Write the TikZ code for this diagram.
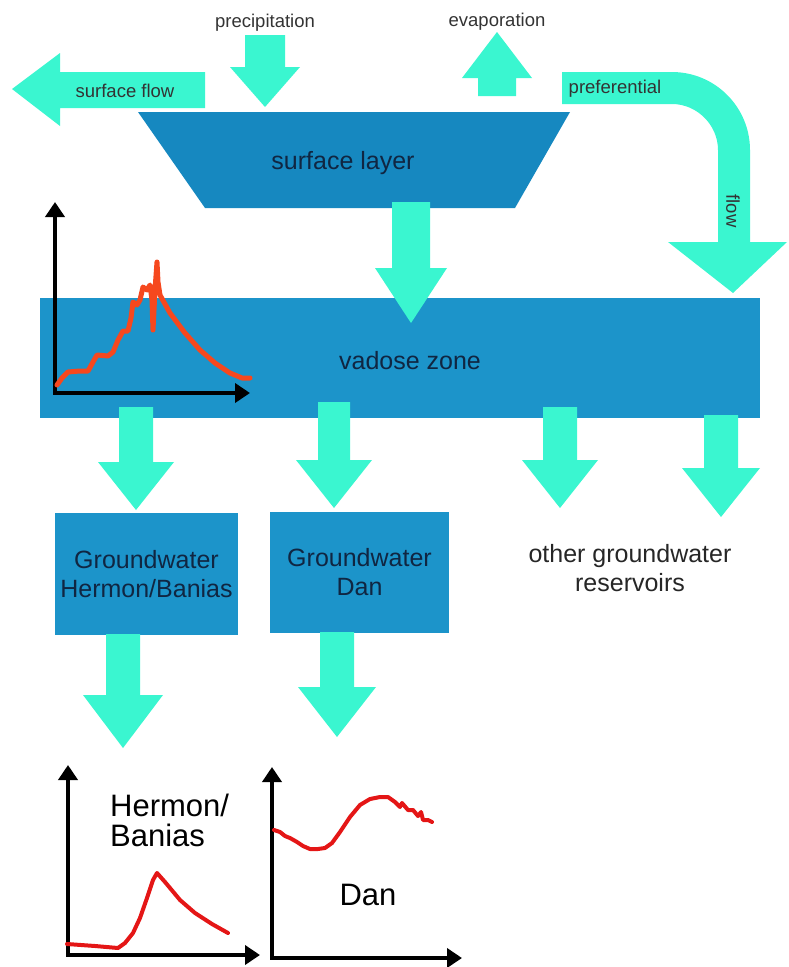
\documentclass[tikz,border=0pt]{standalone}
\usepackage{fontspec}
\setmainfont{Liberation Sans}
\usetikzlibrary{arrows.meta}

\definecolor{flowcyan}{RGB}{58,246,208}
\definecolor{zoneblue}{RGB}{28,148,202}
\definecolor{layerblue}{RGB}{22,136,192}
\definecolor{inktext}{RGB}{16,38,66}
\definecolor{curveorange}{RGB}{246,72,30}
\definecolor{curvered}{RGB}{228,22,22}

% block arrow: centre x, tail y, head base y, tip y, half shaft, half head
\newcommand{\flowarrow}[6]{%
	\fill[flowcyan] (#1-#5,#2) -- (#1+#5,#2) -- (#1+#5,#3) -- (#1+#6,#3)
		-- (#1,#4) -- (#1-#6,#3) -- (#1-#5,#3) -- cycle;}

\begin{document}
\begin{tikzpicture}[x=1pt,y=-1pt,
	boxtext/.style={text=inktext,font=\fontsize{25}{29}\selectfont,align=center,inner sep=0pt},
	smalltext/.style={text=black!80,font=\fontsize{18.5}{22}\selectfont,inner sep=0pt},
	charttext/.style={text=black,font=\fontsize{31}{30}\selectfont,inner sep=0pt},
	axis/.style={line width=4pt,-{Triangle[width=19pt,length=15pt]}},
	curve/.style={line width=4pt,line join=round,line cap=round}]
	\useasboundingbox (0,0) rectangle (788,967);

	% inflow and outflow at the top
	\fill[flowcyan] (205,72) -- (205,108) -- (60,108) -- (60,126) -- (12,89)
		-- (60,53) -- (60,72) -- cycle;
	\node[smalltext,anchor=base] (surfflow) at (125,97) {surface flow};
	\flowarrow{265}{35}{67}{107}{20}{35}
	\node[smalltext,anchor=base] (precip) at (265,27) {precipitation};
	\flowarrow{497}{96}{78}{32}{19}{35}
	\node[smalltext,anchor=base] (evap) at (497,26) {evaporation};
	\fill[flowcyan] (562,72) -- (672,72) .. controls (715,72) and (750,107) .. (750,150)
		-- (750,242) -- (787,242) -- (733,293) -- (668,242) -- (718,242) -- (718,150)
		.. controls (718,125) and (697,104) .. (672,104) -- (562,104) -- cycle;
	\node[smalltext,anchor=base] (prefa) at (615,93) {preferential};
	\node[smalltext,rotate=-90] (prefb) at (733,211) {flow};

	% surface layer
	\fill[layerblue] (138,112) -- (570,112) -- (515,208) -- (205,208) -- cycle;
	\node[boxtext,anchor=base] (surface) at (343,169) {surface layer};

	% vadose zone
	\node[fill=zoneblue,minimum width=720pt,minimum height=120pt,inner sep=0pt] (vadose) at (400,358) {};
	\flowarrow{411}{202}{268}{323}{19}{36}
	\node[boxtext,anchor=base] (vadosetext) at (410,369) {vadose zone};

	% vadose signal
	\draw[axis] (55,393) -- (55,202);
	\draw[axis] (53,393) -- (250,393);
	\draw[curve,curveorange,line width=5pt] (57,385) -- (62,378) -- (68,372) -- (80,371) -- (88,371)
		-- (93,362) -- (97,355) -- (108,356) -- (113,352) -- (118,340) -- (123,331)
		-- (128,331) -- (131,318) -- (133,302) -- (137,305) -- (140,300) -- (143,287)
		-- (147,290) -- (150,285) -- (152,300) -- (153,330) -- (155,290) -- (157,262)
		-- (158,282) -- (160,295) -- (170,313) -- (185,333) -- (200,350) -- (215,363)
		-- (230,373) -- (242,378) -- (250,378);

	% drainage into the reservoirs
	\flowarrow{136}{407}{462}{510}{17}{38}
	\flowarrow{334}{402}{460}{508}{16}{38}
	\flowarrow{560}{407}{460}{508}{17}{38}
	\flowarrow{721}{415}{468}{517}{17}{39}

	% reservoirs
	\node[boxtext,fill=zoneblue,minimum width=183pt,minimum height=122pt] (hermon) at (146.5,574) {Groundwater\\Hermon/Banias};
	\node[boxtext,fill=zoneblue,minimum width=179pt,minimum height=121pt] (dan) at (359.5,572.5) {Groundwater\\Dan};
	\node[boxtext,text=black!85] (other) at (630,568.5) {other groundwater\\reservoirs};
	\flowarrow{123}{634}{695}{748}{17}{40}
	\flowarrow{337}{632}{687}{737}{17}{39}

	% spring discharge Hermon/Banias
	\draw[axis] (68,955) -- (68,765);
	\draw[axis] (66,955) -- (260,955);
	\draw[curve,curvered] (67,944) -- (95,946) -- (118,948) -- (125,943) -- (133,933)
		-- (140,918) -- (147,898) -- (153,880) -- (157,873) -- (165,882) -- (180,900)
		-- (195,913) -- (212,924) -- (228,933);
	\node[charttext,align=left,anchor=north west] (hermonlabel) at (110,794) {Hermon/\\Banias};

	% spring discharge Dan
	\draw[axis] (272,958) -- (272,767);
	\draw[axis] (270,958) -- (462,958);
	\draw[curve,curvered] (274,830) -- (280,832) -- (285,836) -- (290,838) -- (297,842)
		-- (303,846) -- (310,849) -- (318,849) -- (325,848) -- (332,843) -- (340,832)
		-- (350,817) -- (360,805) -- (370,799) -- (380,797) -- (388,797) -- (395,802)
		-- (400,807) -- (402,803) -- (408,810) -- (413,810) -- (418,816) -- (421,812)
		-- (423,820) -- (428,820) -- (432,822);
	\node[charttext,anchor=base] (danlabel) at (368,905) {Dan};
\end{tikzpicture}
\end{document}
